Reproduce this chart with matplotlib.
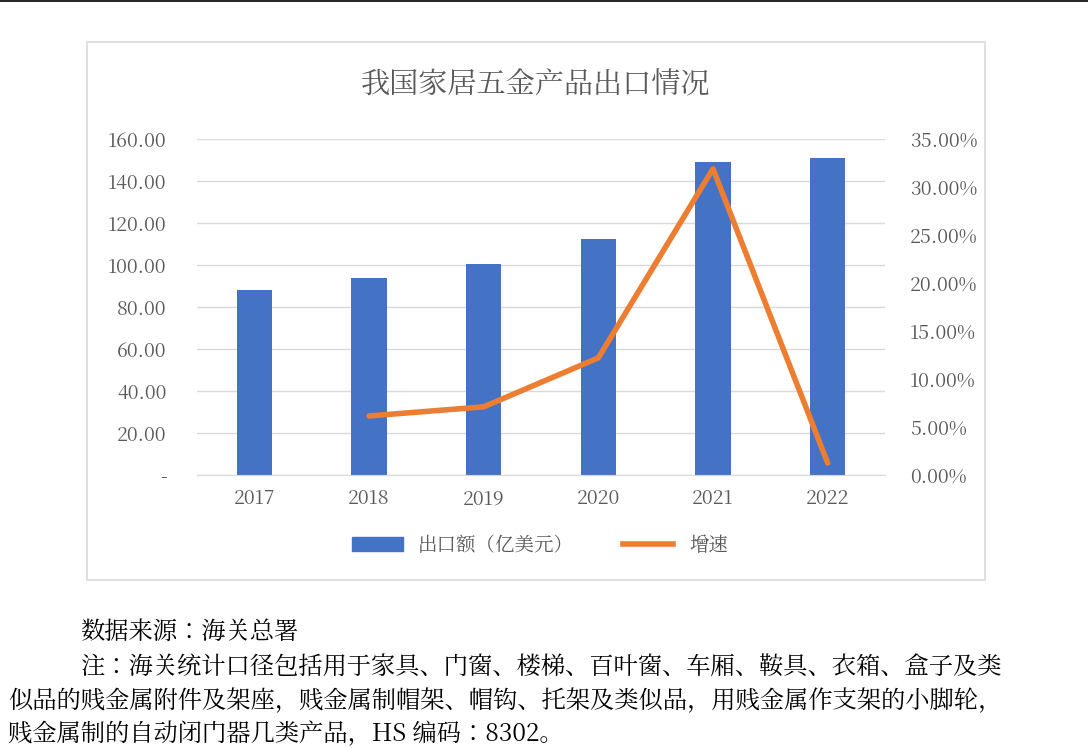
import matplotlib.pyplot as plt
from matplotlib import font_manager
from matplotlib.patches import Rectangle
from matplotlib.lines import Line2D
from matplotlib.ticker import FuncFormatter

# pick whatever CJK family is actually registered
cjk = [f.name for f in font_manager.fontManager.ttflist if "CJK" in f.name]
pref = [n for n in cjk if n.endswith("SC")] or cjk
plt.rcParams["font.family"] = ["DejaVu Sans"] + pref[:1] if False else (pref[:1] + ["DejaVu Sans"])

years = ["2017", "2018", "2019", "2020", "2021", "2022"]
exports = [88.2, 93.9, 100.6, 112.4, 149.0, 151.0]
growth = [None, 6.15, 7.1, 12.2, 31.9, 1.25]

BLUE = "#4472C4"
ORANGE = "#ED7D31"
GREY = "#595959"

fig = plt.figure(figsize=(10.88, 7.48), dpi=100)

# top rule and chart frame
fig.add_artist(Line2D([0, 1], [0.999, 0.999], color="black", lw=1.2))
fig.add_artist(Rectangle((87 / 1088, 1 - 580 / 748), 898 / 1088, 538 / 748,
                         fill=False, edgecolor="#D9D9D9", lw=1.2))

ax = fig.add_axes([197 / 1088, 1 - 475 / 748, 688 / 1088, 336 / 748])
x = range(len(years))
ax.bar(x, exports, width=0.31, color=BLUE, zorder=2)
ax.set_ylim(0, 160)
ax.set_yticks(range(0, 161, 20))
ax.yaxis.set_major_formatter(FuncFormatter(lambda v, p: "-" if v == 0 else f"{v:.2f}"))
ax.set_xlim(-0.5, len(years) - 0.5)
ax.set_xticks(list(x), years)
ax.grid(axis="y", color="#D9D9D9", lw=1, zorder=0)
for s in ["top", "right", "left"]:
    ax.spines[s].set_visible(False)
ax.spines["bottom"].set_color("#D9D9D9")
ax.tick_params(length=0, labelsize=14, colors=GREY, pad=10)
ax.tick_params(axis="y", pad=22)

ax2 = ax.twinx()
gx = [i for i, g in enumerate(growth) if g is not None]
gy = [g for g in growth if g is not None]
ax2.plot(gx, gy, color=ORANGE, lw=4, solid_capstyle="round")
ax2.set_ylim(0, 35)
ax2.set_yticks(range(0, 36, 5))
ax2.yaxis.set_major_formatter(FuncFormatter(lambda v, p: f"{v:.2f}%"))
for s in ax2.spines.values():
    s.set_visible(False)
ax2.tick_params(length=0, labelsize=14, colors=GREY, pad=18)

fig.text(536 / 1088, 1 - 85 / 748, "我国家居五金产品出口情况", ha="center", va="center",
         fontsize=21, color=GREY)

handles = [Rectangle((0, 0), 1, 1, color=BLUE), Line2D([], [], color=ORANGE, lw=4)]
fig.legend(handles, ["出口额（亿美元）", "增速"], loc="center",
           bbox_to_anchor=(540 / 1088, 1 - 546 / 748), ncol=2, frameon=False,
           fontsize=14, labelcolor=GREY, handlelength=2.6, columnspacing=2.5)

fs = 17.5
fig.text(80 / 1088, 1 - 632 / 748, "数据来源：海关总署", fontsize=fs, va="center")
fig.text(80 / 1088, 1 - 667 / 748,
         "注：海关统计口径包括用于家具、门窗、楼梯、百叶窗、车厢、鞍具、衣箱、盒子及类",
         fontsize=fs, va="center")
fig.text(8 / 1088, 1 - 701 / 748,
         "似品的贱金属附件及架座，贱金属制帽架、帽钩、托架及类似品，用贱金属作支架的小脚轮，",
         fontsize=fs, va="center")
fig.text(8 / 1088, 1 - 734 / 748,
         "贱金属制的自动闭门器几类产品，HS 编码：8302。", fontsize=fs, va="center")

fig.savefig("out.png", dpi=100)
